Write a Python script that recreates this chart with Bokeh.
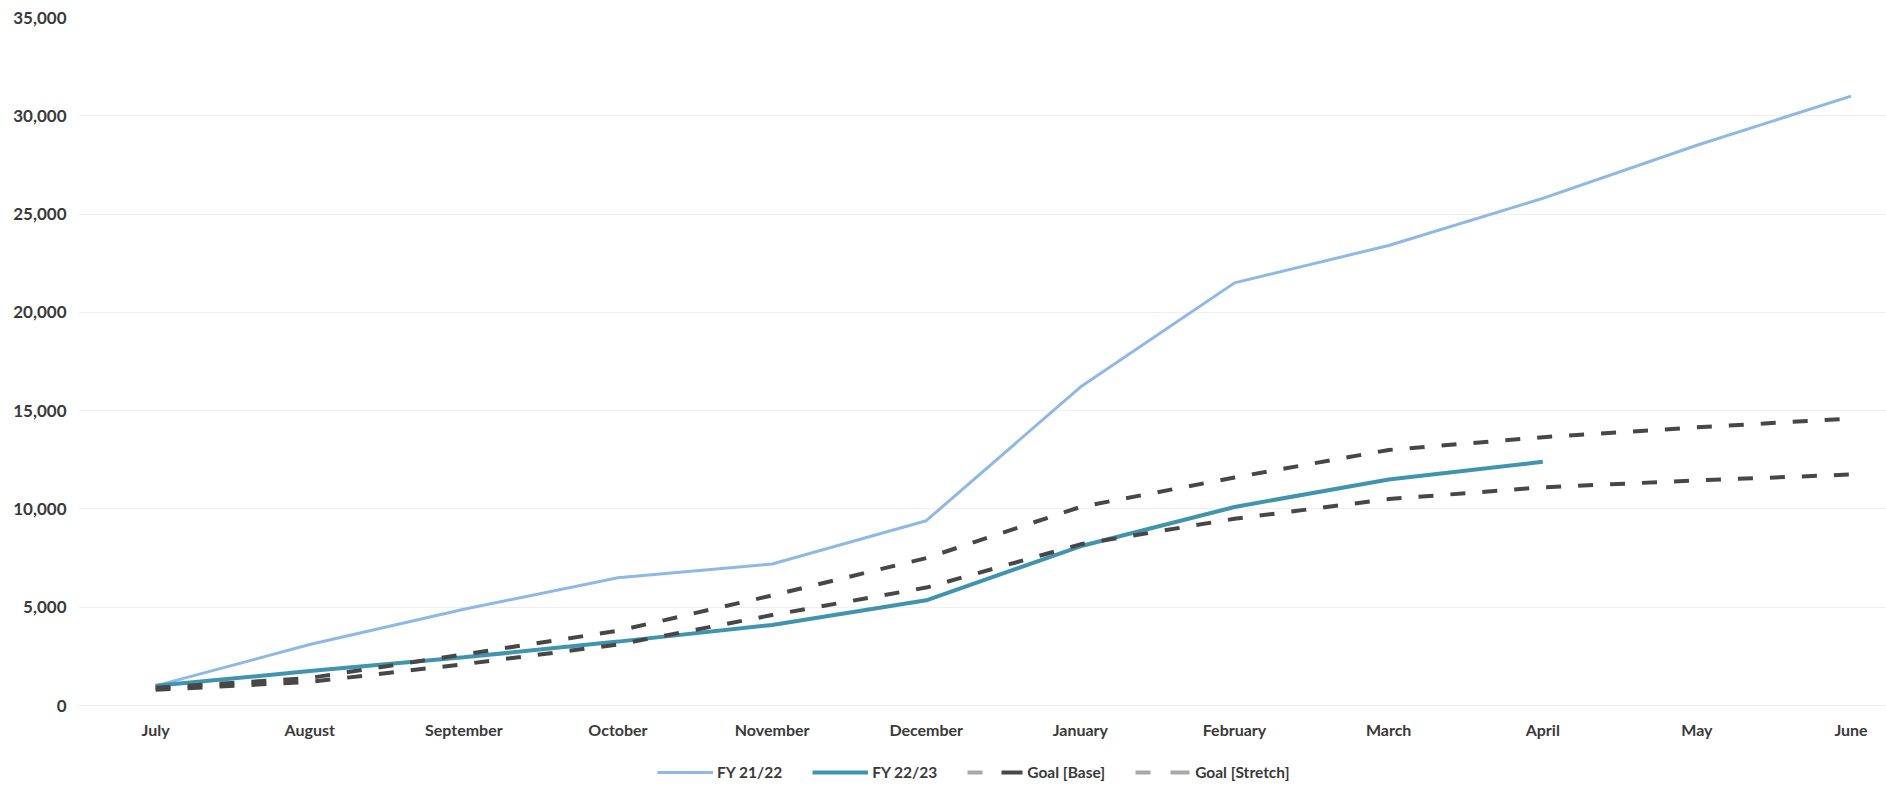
from bokeh.plotting import figure
from bokeh.models import (Range1d, FixedTicker, NumeralTickFormatter, Legend,
                          LegendItem, ColumnDataSource)
from bokeh.embed import file_html
from bokeh.resources import INLINE

# ---- data ----
months = ["July", "August", "September", "October", "November", "December",
          "January", "February", "March", "April", "May", "June"]
fy_21_22 = [1000, 3100, 4900, 6500, 7200, 9400, 16200, 21500, 23400, 25800, 28500, 31000]
fy_22_23 = [1000, 1750, 2450, 3250, 4100, 5350, 8100, 10100, 11500, 12400]
goal_base = [800, 1200, 2100, 3100, 4600, 6000, 8200, 9500, 10500, 11100, 11450, 11750]
goal_stretch = [900, 1400, 2600, 3800, 5600, 7500, 10100, 11600, 13000, 13650, 14150, 14600]
y_ticks = [0, 5000, 10000, 15000, 20000, 25000, 30000, 35000]

x_all = list(range(len(months)))

FONT = "Lato"
TXT = "#3a3a3a"
LIGHT_BLUE = "#8db8e8"
TEAL = "#3f95ae"
DARK = "#474747"
GREY = "#a8a8a8"

# layout: value axis spans 688 px (0 -> 35,000); 84 px below the zero line hold
# the month labels and the legend inside the frame
Y_MAX = y_ticks[-1]
y_start = -Y_MAX * 84 / 688

p = figure(width=1886, height=789, output_backend="svg", toolbar_location=None,
           x_range=Range1d(-0.5, 11.23), y_range=Range1d(y_start, Y_MAX),
           min_border_left=78, min_border_right=0, min_border_top=17,
           min_border_bottom=0)
p.outline_line_color = None
p.background_fill_color = "white"
p.border_fill_color = "white"

# grid
p.xgrid.grid_line_color = None
p.ygrid.grid_line_color = "#efefef"
p.ygrid.grid_line_width = 1
p.ygrid.ticker = FixedTicker(ticks=y_ticks)

# axes
p.xaxis.fixed_location = 0
p.xaxis.ticker = FixedTicker(ticks=x_all)
p.xaxis.major_label_overrides = {i: m for i, m in zip(x_all, months)}
p.yaxis.ticker = FixedTicker(ticks=y_ticks)
p.yaxis.formatter = NumeralTickFormatter(format="0,0")
for ax in (p.xaxis, p.yaxis):
    ax.axis_line_color = None
    ax.major_tick_line_color = None
    ax.minor_tick_line_color = None
    ax.major_tick_out = 0
    ax.major_tick_in = 0
    ax.major_label_text_font = FONT
    ax.major_label_text_font_style = "bold"
    ax.major_label_text_color = TXT
p.xaxis.major_label_text_font_size = "16px"
p.xaxis.major_label_standoff = 14
p.yaxis.major_label_text_font_size = "17px"
p.yaxis.major_label_standoff = 12

# series
r1 = p.line(x_all, fy_21_22, line_color=LIGHT_BLUE, line_width=3)
r2 = p.line(x_all[:len(fy_22_23)], fy_22_23, line_color=TEAL, line_width=4)
p.line(x_all, goal_base, line_color=DARK, line_width=4, line_dash="15 17")
p.line(x_all, goal_stretch, line_color=DARK, line_width=4, line_dash="15 17")

# legend-only swatches (two-tone dashes as in the reference); no drawable data
blank = ColumnDataSource(data=dict(x=[0], y=[float("nan")]))
b1 = p.line("x", "y", source=blank, line_color=GREY, line_width=4, line_dash="15 100")
b2 = p.line("x", "y", source=blank, line_color=DARK, line_width=4,
            line_dash="21 100", line_dash_offset=87)
s1 = p.line("x", "y", source=blank, line_color=GREY, line_width=4, line_dash="15 100")
s2 = p.line("x", "y", source=blank, line_color=GREY, line_width=4,
            line_dash="19 100", line_dash_offset=84)

legend = Legend(items=[
    LegendItem(label="FY 21/22", renderers=[r1]),
    LegendItem(label="FY 22/23", renderers=[r2]),
    LegendItem(label="Goal [Base]", renderers=[b1, b2]),
    LegendItem(label="Goal [Stretch]", renderers=[s1, s2]),
], orientation="horizontal", location=(579, 7))
legend.glyph_width = 56
legend.glyph_height = 20
legend.label_standoff = 4
legend.spacing = 30
legend.padding = 0
legend.margin = 0
legend.border_line_color = None
legend.background_fill_alpha = 0
legend.label_text_font = FONT
legend.label_text_font_style = "bold"
legend.label_text_font_size = "15.5px"
legend.label_text_color = TXT
p.add_layout(legend)

open("out.html", "w").write(file_html(p, INLINE))
